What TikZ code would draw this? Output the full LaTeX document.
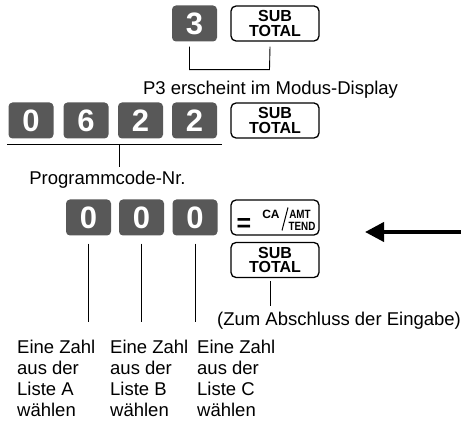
\documentclass[tikz,border=0pt]{standalone}
\usepackage{fontspec}
\setmainfont{Liberation Sans}
\usetikzlibrary{arrows.meta}
\definecolor{keygray}{RGB}{88,88,88}
\tikzset{numkey/.style={fill=keygray, rounded corners=4pt, minimum width=45pt, minimum height=36pt, inner sep=0pt, text=white, font=\fontsize{31}{31}\selectfont\bfseries}}
\tikzset{fnkey/.style={draw, line width=1.3pt, rounded corners=5pt, minimum width=88pt, minimum height=35pt, inner sep=0pt, align=center, font=\fontsize{16}{14.5}\selectfont\bfseries}}
\tikzset{keytxt/.style={inner sep=0pt, font=\fontsize{12}{12}\selectfont\bfseries}}
\tikzset{lbl/.style={inner sep=0pt, font=\fontsize{18.5}{21}\selectfont}}
\tikzset{tick/.style={line width=0.9pt}}
\newcommand{\numkey}[3]{\node[numkey] (#1) at (#2) {#3};}
\newcommand{\narrow}[1]{\scalebox{0.82}[1]{#1}}

\begin{document}
\begin{tikzpicture}[x=1pt,y=1pt]
\useasboundingbox (0,0) rectangle (461,426);
\numkey{k3}{194.5,402.5}{3}
\node[fnkey] (st1) at (275,402.5) {SUB\\TOTAL};
\draw[tick] ([xshift=-5pt,yshift=-5pt]k3.south) -- ++(0,-23) -- ++(80,0) -- ([xshift=-5pt,yshift=-5pt]st1.south);
\node[lbl] (p3) at (270.5,336) {P3 erscheint im Modus-Display};
\numkey{n1}{31,305.5}{0}
\numkey{n2}{86,305.5}{6}
\numkey{n3}{140.5,305.5}{2}
\numkey{n4}{194.5,305.5}{2}
\node[fnkey] (st2) at (275,305.5) {SUB\\TOTAL};
\coordinate (u1) at (7,282);
\coordinate (u2) at (222,282);
\coordinate (u3) at (119,282);
\draw[tick] (u1) -- (u2);
\node[lbl] (pc) at (107.5,246) {Programmcode-Nr.};
\draw[tick] (u3) -- ([yshift=4pt]pc.north -| u3);
\numkey{z1}{88.5,208.5}{0}
\numkey{z2}{141.5,208.5}{0}
\numkey{z3}{195,208.5}{0}
\node[fnkey] (ca) at (275,208.5) {};
\node[inner sep=0pt, font=\fontsize{25}{25}\selectfont\bfseries] (eq) at (244,200.5) {=};
\node[keytxt] (cat) at (271,212) {CA};
\node[keytxt] (amt) at (300,212) {\narrow{AMT}};
\node[keytxt] (tend) at (302,199.5) {\narrow{TEND}};
\draw[line width=1pt] ([xshift=7pt,yshift=-13pt]ca.center) -- ([xshift=13pt,yshift=10pt]ca.center);
\node[fnkey] (st3) at (275,166) {SUB\\TOTAL};
\coordinate (ar0) at (461,194);
\coordinate (ar1) at (365,194);
\draw[line width=4pt, -{Triangle[length=19pt,width=19pt]}] (ar0) -- (ar1);
\coordinate (e1) at (0,104);
\draw[tick] ([yshift=-8pt]z1.south) -- (z1 |- e1);
\draw[tick] ([yshift=-8pt]z2.south) -- (z2 |- e1);
\draw[tick] ([yshift=-8pt]z3.south) -- (z3 |- e1);
\draw[tick] ([xshift=-5pt,yshift=-3pt]st3.south) -- ++(0,-25);
\node[lbl, anchor=base west] (zum) at (217,100) {(Zum Abschluss der Eingabe)};
\node[lbl, align=left, anchor=north west] (la) at (17,86.5) {Eine Zahl\\aus der\\Liste A\\wählen};
\node[lbl, align=left, anchor=north west] (lb) at (110,86.5) {Eine Zahl\\aus der\\Liste B\\wählen};
\node[lbl, align=left, anchor=north west] (lc) at (197,86.5) {Eine Zahl\\aus der\\Liste C\\wählen};
\end{tikzpicture}
\end{document}
